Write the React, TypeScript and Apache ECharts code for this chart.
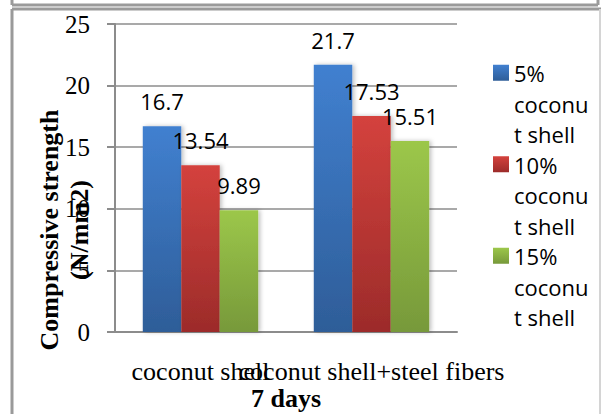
import React, { useEffect, useRef } from "react";
import * as echarts from "echarts";

const categories = ["coconut shell", "coconut shell+steel fibers"];
const seriesNames = ["5% coconut shell", "10% coconut shell", "15% coconut shell"];
const values5 = [16.7, 21.7];
const values10 = [13.54, 17.53];
const values15 = [9.89, 15.51];
const yTicks = { min: 0, max: 25, interval: 5 };

const colors = [
  ["#4180D0", "#2E5D98"],
  ["#D4423D", "#9C2B2A"],
  ["#9CC74A", "#77993A"],
];

export default function App() {
  const ref = useRef<HTMLDivElement>(null);
  useEffect(() => {
    if (!ref.current) return;
    const chart = echarts.init(ref.current, undefined, { renderer: "svg" });
    const grad = (c: string[]) =>
      new echarts.graphic.LinearGradient(0, 0, 0, 1, [
        { offset: 0, color: c[0] },
        { offset: 1, color: c[1] },
      ]);
    const legendGrad = (c: string[]) =>
      new echarts.graphic.LinearGradient(0, 0, 0, 1, [
        { offset: 0, color: c[0] },
        { offset: 0.205, color: c[1] },
        { offset: 1, color: c[1] },
      ]);
    const data = [values5, values10, values15];
    const frameColor = "#9a9a9a";
    chart.setOption({
      animation: false,
      backgroundColor: "#ffffff",
      grid: { left: 115, right: 144, top: 24, bottom: 82, outerBoundsMode: "none", containLabel: false },
      legend: {
        orient: "vertical",
        left: 493,
        top: 58,
        padding: 0,
        itemWidth: 16,
        itemHeight: 78,
        itemGap: 0,
        icon: "path://M0,0H16V16H0Z M0,78L0.01,78",
        data: seriesNames.map((name, i) => ({ name, itemStyle: { color: legendGrad(colors[i]) } })),
        formatter: (name: string) => name.replace(" coconut shell", "\ncoconu\nt shell"),
        textStyle: {
          fontFamily: "Open Sans",
          fontSize: 22,
          lineHeight: 30.5,
          color: "#000",
        },
      },
      xAxis: {
        type: "category",
        data: categories,
        name: "7 days",
        nameLocation: "middle",
        nameGap: 53,
        nameMoveOverlap: false,
        nameTextStyle: {
          fontFamily: "Liberation Serif",
          fontWeight: "bold",
          fontSize: 26,
          color: "#000",
        },
        axisLine: { lineStyle: { color: "#8c8c8c", width: 2 } },
        axisTick: { show: false },
        axisLabel: {
          interval: 0,
          margin: 26,
          fontFamily: "Liberation Serif",
          fontSize: 26,
          color: "#000",
          hideOverlap: false,
        },
      },
      yAxis: {
        type: "value",
        min: yTicks.min,
        max: yTicks.max,
        interval: yTicks.interval,
        name: "Compressive strength\n(N/mm2)",
        nameLocation: "middle",
        nameRotate: 90,
        nameGap: 21,
        nameMoveOverlap: false,
        nameTextStyle: {
          fontFamily: "Liberation Serif",
          fontWeight: "bold",
          fontSize: 26,
          lineHeight: 30,
          color: "#000",
          padding: [0, 104, 0, 0],
        },
        axisLine: { show: true, lineStyle: { color: "#8c8c8c", width: 2 } },
        axisTick: { show: true, length: 8, lineStyle: { color: "#8c8c8c", width: 2 } },
        splitLine: { show: true, lineStyle: { color: "#8c8c8c", width: 1.5 } },
        axisLabel: {
          margin: 25,
          fontFamily: "Liberation Serif",
          fontSize: 25,
          color: "#000",
        },
      },
      series: seriesNames.map((name, i) => ({
        name,
        type: "bar",
        data: data[i],
        barGap: "0%",
        barCategoryGap: "32.5%",
        itemStyle: {
          color: grad(colors[i]),
          shadowColor: "rgba(0,0,0,0.25)",
          shadowBlur: 4,
          shadowOffsetX: 2,
        },
        label: {
          show: true,
          position: "top",
          distance: 14,
          fontFamily: "Open Sans",
          fontSize: 22,
          color: "#000",
        },
      })),
      graphic: [
        { type: "line", shape: { x1: 12, y1: 5, x2: 598, y2: 5 }, style: { stroke: frameColor, lineWidth: 3 } },
        { type: "line", shape: { x1: 12, y1: 0, x2: 12, y2: 5 }, style: { stroke: frameColor, lineWidth: 3 } },
        { type: "line", shape: { x1: 598, y1: 0, x2: 598, y2: 5 }, style: { stroke: frameColor, lineWidth: 3 } },
        { type: "line", shape: { x1: 12, y1: 9, x2: 601, y2: 9 }, style: { stroke: frameColor, lineWidth: 3 } },
        { type: "line", shape: { x1: 12, y1: 9, x2: 12, y2: 414 }, style: { stroke: frameColor, lineWidth: 3 } },
        { type: "line", shape: { x1: 600, y1: 9, x2: 600, y2: 414 }, style: { stroke: "#d4d4d4", lineWidth: 2 } },
      ],
    });
    return () => chart.dispose();
  }, []);
  return (
    <div
      ref={ref}
      style={{ position: "fixed", left: 0, top: 0, width: 601, height: 414 }}
    />
  );
}
